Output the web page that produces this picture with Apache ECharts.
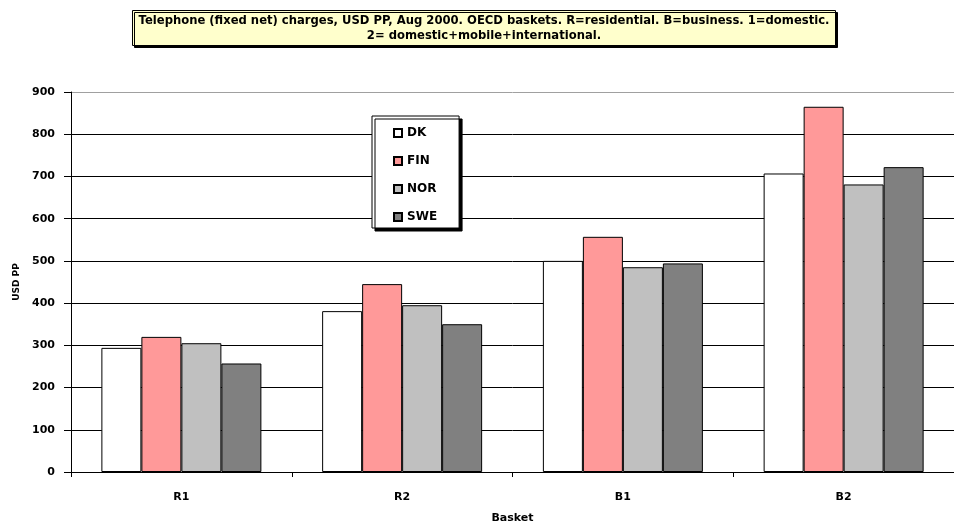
<!DOCTYPE html>
<html>
<head>
<meta charset="utf-8">
<script src="https://cdn.jsdelivr.net/npm/echarts@6/dist/echarts.min.js"></script>
<style>
  html, body { margin: 0; padding: 0; background: #fff; }
  #chart { width: 954px; height: 529px; }
</style>
</head>
<body>
<div id="chart"></div>
<script>
// OECD telephone baskets, USD PP, August 2000
var baskets = ['R1', 'R2', 'B1', 'B2'];
var seriesNames = ['DK', 'FIN', 'NOR', 'SWE'];
var dkValues  = [294, 381, 500, 707];
var finValues = [320, 445, 557, 865];
var norValues = [305, 395, 485, 681];
var sweValues = [257, 350, 494, 722];
var yTicks = [0, 100, 200, 300, 400, 500, 600, 700, 800, 900];
var fillColors = ['#FFFFFF', '#FF9999', '#C0C0C0', '#808080'];

var valueSets = [dkValues, finValues, norValues, sweValues];
var font = '"DejaVu Sans", Verdana, sans-serif';

var chart = echarts.init(document.getElementById('chart'), null, { renderer: 'canvas' });

// grid lines black, the top one (plot frame) grey
var splitColors = yTicks.map(function (t, i) { return i === yTicks.length - 1 ? '#A0A0A0' : '#000000'; });

chart.setOption({
  animation: false,
  backgroundColor: '#FFFFFF',
  textStyle: { fontFamily: font },
  title: {
    text: 'Telephone (fixed net) charges, USD PP, Aug 2000. OECD baskets. R=residential. B=business. 1=domestic.\n2= domestic+mobile+international.',
    left: 478,
    top: 10,
    textAlign: 'center',
    padding: [3, 6, 3, 6],
    backgroundColor: '#FFFFCC',
    borderColor: '#000000',
    borderWidth: 1,
    shadowColor: '#000000',
    shadowOffsetX: 2,
    shadowOffsetY: 2,
    shadowBlur: 0,
    textStyle: {
      fontFamily: font,
      fontSize: 11.6,
      fontWeight: 'bold',
      color: '#000000',
      lineHeight: 15
    }
  },
  legend: {
    orient: 'vertical',
    left: 372,
    top: 116,
    data: seriesNames,
    itemWidth: 8,
    itemHeight: 8,
    itemGap: 14,
    padding: [10, 22, 4, 21],
    backgroundColor: '#FFFFFF',
    borderColor: '#000000',
    borderWidth: 1,
    shadowColor: '#000000',
    shadowOffsetX: 3,
    shadowOffsetY: 3,
    shadowBlur: 0,
    icon: 'rect',
    textStyle: { fontFamily: font, fontSize: 12, fontWeight: 'bold', color: '#000000', lineHeight: 14 }
  },
  grid: { left: 71, top: 92, width: 884, height: 384, containLabel: false },
  xAxis: {
    type: 'category',
    data: baskets,
    name: 'Basket',
    nameLocation: 'middle',
    nameGap: 41,
    nameTextStyle: { fontFamily: font, fontSize: 11, fontWeight: 'bold', color: '#000000' },
    axisLine: { lineStyle: { color: '#000000', width: 1 } },
    axisTick: { show: true, length: 5, lineStyle: { color: '#000000' } },
    axisLabel: { margin: 20, fontFamily: font, fontSize: 11, fontWeight: 'bold', color: '#000000' },
    splitLine: { show: false }
  },
  yAxis: {
    type: 'value',
    min: 0,
    max: 900,
    interval: 100,
    name: 'USD PP',
    nameLocation: 'middle',
    nameRotate: 90,
    nameGap: 48,
    nameTextStyle: { fontFamily: font, fontSize: 9, fontWeight: 'bold', color: '#000000' },
    axisLine: { show: true, lineStyle: { color: '#000000', width: 1 } },
    axisTick: { show: true, length: 7, lineStyle: { color: '#000000' } },
    axisLabel: {
      margin: 16,
      fontFamily: font, fontSize: 11, fontWeight: 'bold', color: '#000000',
      formatter: function (v) { return yTicks.indexOf(v) >= 0 ? String(v) : ''; }
    },
    splitLine: { show: true, lineStyle: { color: splitColors, width: 1 } }
  },
  series: seriesNames.map(function (name, i) {
    return {
      name: name,
      type: 'bar',
      data: valueSets[i],
      barWidth: 40,
      barGap: '0%',
      itemStyle: { color: fillColors[i], borderColor: '#000000', borderWidth: 1 }
    };
  })
});
</script>
</body>
</html>
